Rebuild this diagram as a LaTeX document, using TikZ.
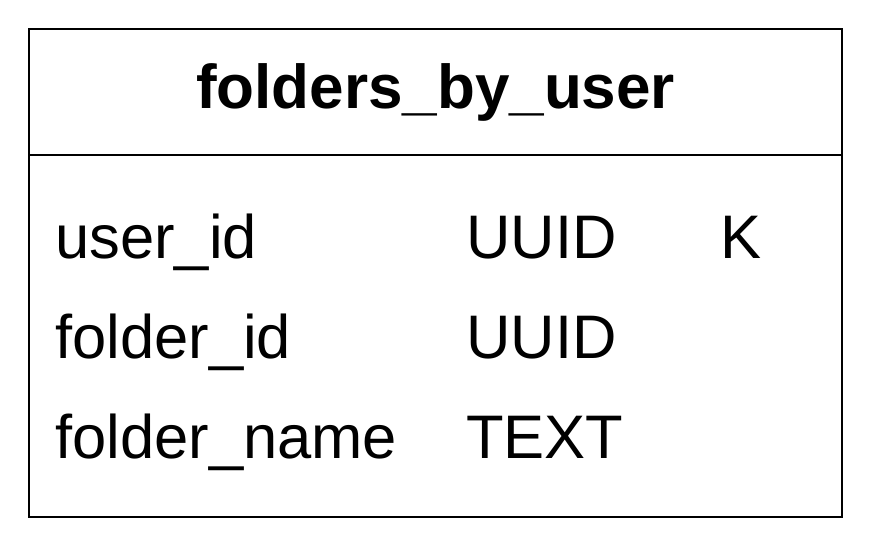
\documentclass[tikz,border=0pt]{standalone}
\usepackage{fontspec}
\setmainfont{Liberation Sans}
\begin{document}
\begin{tikzpicture}[x=1pt,y=-1pt,
  cell/.style={anchor=base west,inner sep=0pt,font=\fontsize{61.5}{61.5}\selectfont},
  title/.style={anchor=base,inner sep=0pt,font=\fontsize{62}{62}\selectfont\bfseries},
  frame/.style={draw=black,line width=2pt}]
\useasboundingbox (0,0) rectangle (872,544);
\draw[frame] (29,29) rectangle (842,517);
\draw[frame] (29,154.5) -- (842,154.5);
\node[title] (t) at (435.5,108.5) {folders\_by\_user};
\node[cell] (n1) at (55,258) {user\_id};
\node[cell] (y1) at (466,258) {UUID};
\node[cell] (k1) at (720,258) {K};
\node[cell] (n2) at (55,358) {folder\_id};
\node[cell] (y2) at (466,358) {UUID};
\node[cell] (n3) at (55,458) {folder\_name};
\node[cell] (y3) at (466,458) {TEXT};
\end{tikzpicture}
\end{document}
